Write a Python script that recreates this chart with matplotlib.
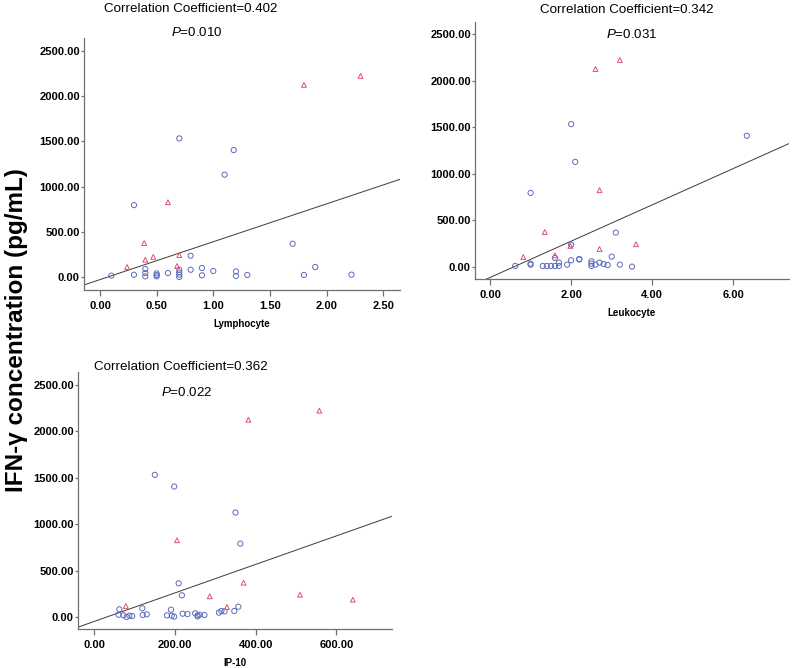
import matplotlib
matplotlib.use("Agg")
import matplotlib.pyplot as plt
import numpy as np

plt.rcParams['font.family'] = ['Liberation Sans', 'DejaVu Sans']
plt.rcParams['mathtext.fontset'] = 'custom'
plt.rcParams['mathtext.rm'] = 'Liberation Sans'
plt.rcParams['mathtext.it'] = 'Liberation Sans:italic'

# ---------------- data ----------------
# Panel 1: Lymphocyte
lym_blue_x = [0.10, 0.30, 0.30, 0.40, 0.40, 0.40, 0.50, 0.50, 0.50, 0.60, 0.70, 0.70, 0.70, 0.70,
              0.70, 0.80, 0.80, 0.90, 0.90, 1.00, 1.10, 1.18, 1.20, 1.20, 1.30, 1.70, 1.80, 1.90, 2.22]
lym_blue_y = [15, 795, 25, 88, 44, 7, 40, 22, 7, 44, 1533, 80, 51, 26,
              0, 235, 80, 99, 18, 66, 1132, 1404, 62, 11, 22, 368, 22, 110, 26]
lym_red_x = [0.24, 0.39, 0.40, 0.47, 0.60, 0.68, 0.70, 1.80, 2.30]
lym_red_y = [110, 375, 190, 222, 827, 122, 243, 2125, 2224]
lym_fit = (-29, 419)  # intercept, slope

# Panel 2: Leukocyte
leu_blue_x = [0.62, 1.00, 1.00, 1.00, 1.30, 1.40, 1.50, 1.60, 1.60, 1.70, 1.70, 1.90, 2.00, 2.00,
              2.00, 2.10, 2.20, 2.20, 2.50, 2.50, 2.50, 2.60, 2.70, 2.80, 2.90, 3.00, 3.10, 3.20,
              3.50, 6.33]
leu_blue_y = [11, 795, 36, 25, 11, 11, 11, 11, 97, 47, 11, 25, 1533, 72,
              240, 1128, 86, 80, 61, 36, 11, 25, 47, 32, 21, 111, 369, 25,
              4, 1408]
leu_red_x = [0.82, 1.35, 1.60, 1.98, 2.60, 2.70, 2.70, 3.20, 3.60]
leu_red_y = [107, 376, 125, 226, 2124, 824, 193, 2221, 244]
leu_fit = (-113, 195)

# Panel 3: IP-10
ip_blue_x = [62, 60, 72, 80, 87, 94, 119, 120, 130, 150, 180, 190, 192, 198, 198, 209, 217, 219,
             231, 250, 256, 256, 261, 273, 309, 315, 323, 347, 350, 357, 362]
ip_blue_y = [83, 25, 18, 0, 14, 11, 94, 22, 29, 1532, 18, 79, 14, 4, 1406, 363, 234, 36,
             32, 40, 18, 7, 25, 22, 47, 65, 61, 65, 1126, 111, 791]
ip_red_x = [78, 205, 286, 329, 370, 382, 510, 558, 641]
ip_red_y = [119, 827, 223, 108, 370, 2126, 241, 2223, 187]
ip_fit = (-47, 1.535)

titles = ["Correlation Coefficient=0.402", "Correlation Coefficient=0.342", "Correlation Coefficient=0.362"]
pvals = ["0.010", "0.031", "0.022"]
xlabels = ["Lymphocyte", "Leukocyte", "IP-10"]
xticks = [[0, 0.5, 1.0, 1.5, 2.0, 2.5], [0, 2, 4, 6], [0, 200, 400, 600]]
yticks = [0, 500, 1000, 1500, 2000, 2500]
ylabel = "IFN-γ concentration (pg/mL)"

# ---------------- figure ----------------
W, H = 793, 668
fig = plt.figure(figsize=(W / 100, H / 100), dpi=100)


def px_axes(l, t, r, b):
    return fig.add_axes([l / W, 1 - b / H, (r - l) / W, (b - t) / H])


panels = [
    dict(box=(84, 38, 400, 290), xlim=(-0.141, 2.648), ylim=(-144, 2644),
         bx=lym_blue_x, by=lym_blue_y, rx=lym_red_x, ry=lym_red_y, fit=lym_fit,
         title_xy=(191, 9), p_xy=(197, 33)),
    dict(box=(475, 22, 789, 279), xlim=(-0.37, 7.37), ylim=(-129, 2629),
         bx=leu_blue_x, by=leu_blue_y, rx=leu_red_x, ry=leu_red_y, fit=leu_fit,
         title_xy=(627, 10), p_xy=(632, 35)),
    dict(box=(78, 372, 392, 629), xlim=(-40.5, 738), ylim=(-129, 2640),
         bx=ip_blue_x, by=ip_blue_y, rx=ip_red_x, ry=ip_red_y, fit=ip_fit,
         title_xy=(181, 367), p_xy=(187, 392)),
]

blue = '#5b6bbd'
red = '#e0506a'
spine_col = '#707070'

for i, p in enumerate(panels):
    ax = px_axes(*p['box'])
    ax.set_xlim(*p['xlim'])
    ax.set_ylim(*p['ylim'])
    for s in ['top', 'right']:
        ax.spines[s].set_visible(False)
    for s in ['left', 'bottom']:
        ax.spines[s].set_color(spine_col)
        ax.spines[s].set_linewidth(0.9)
    ax.scatter(p['bx'], p['by'], s=14, facecolors='none', edgecolors=blue, linewidths=0.7, marker='o', zorder=3)
    ax.scatter(p['rx'], p['ry'], s=12, facecolors='none', edgecolors=red, linewidths=0.7, marker='^', zorder=3)
    b0, b1 = p['fit']
    xs = np.array(p['xlim'])
    ax.plot(xs, b0 + b1 * xs, color='#3a3a3a', lw=0.7, zorder=2)
    ax.set_xticks(xticks[i])
    ax.set_xticklabels([f"{v:.2f}" for v in xticks[i]], fontsize=8, fontweight='bold')
    ax.set_yticks(yticks)
    ax.set_yticklabels([f"{v:.2f}" for v in yticks], fontsize=8, fontweight='bold')
    ax.tick_params(axis='x', length=4, width=0.9, color=spine_col, pad=4)
    ax.tick_params(axis='y', length=2, width=0.9, color=spine_col, pad=1)
    ax.set_xlabel(xlabels[i], fontsize=7, fontweight='bold', labelpad=6)
    tx, ty = p['title_xy']
    fig.text(tx / W, 1 - ty / H, titles[i], fontsize=9.6, ha='center', va='center')
    px_, py_ = p['p_xy']
    fig.text(px_ / W, 1 - py_ / H, r"$\it{P}$=" + pvals[i], fontsize=9.6, ha='center', va='center')

fig.text(17 / W, 1 - 330 / H, ylabel, rotation=90, fontsize=17.5, fontweight='bold',
         ha='center', va='center')

fig.savefig("out.png", dpi=100)
